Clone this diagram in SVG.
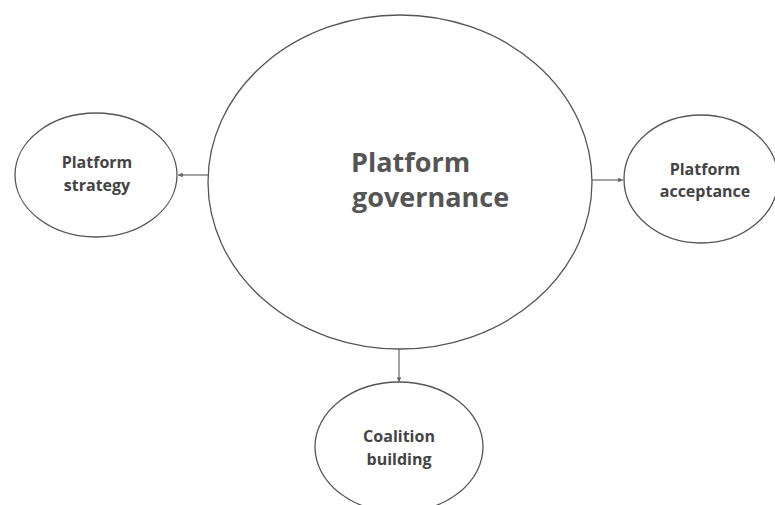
<svg xmlns="http://www.w3.org/2000/svg" width="775" height="505" viewBox="0 0 775 505">
<style>
.n{fill:#fff;stroke:#555;stroke-width:1.3}
.t{font-family:"Open Sans","Noto Sans",sans-serif;font-weight:bold;fill:#444;font-size:16px;text-anchor:middle}
.big{font-size:27px;fill:#555}
.c{stroke:#666;stroke-width:1.2;fill:none;marker-end:url(#ah)}
</style>
<defs>
<marker id="ah" viewBox="0 0 6 6" refX="6" refY="3" markerWidth="4" markerHeight="4" orient="auto">
<path d="M0,0 L6,3 L0,6 z" fill="#666"/>
</marker>
</defs>
<rect width="775" height="505" fill="#fff"/>
<g id="connectors">
<line class="c" x1="209" y1="175" x2="178" y2="175"/>
<line class="c" x1="591" y1="180" x2="623" y2="180"/>
<line class="c" x1="399" y1="349" x2="399" y2="382"/>
</g>
<g id="governance">
<ellipse class="n" cx="400" cy="182" rx="192" ry="167"/>
<text class="t big" x="351" y="172" style="text-anchor:start">Platform</text>
<text class="t big" x="352" y="207" style="text-anchor:start">governance</text>
</g>
<g id="strategy">
<ellipse class="n" cx="96" cy="175" rx="81" ry="62"/>
<text class="t" x="97" y="168">Platform</text>
<text class="t" x="97" y="191">strategy</text>
</g>
<g id="acceptance">
<ellipse class="n" cx="701" cy="179" rx="77" ry="64"/>
<text class="t" x="705" y="175">Platform</text>
<text class="t" x="705" y="197">acceptance</text>
</g>
<g id="coalition">
<ellipse class="n" cx="399" cy="447" rx="84" ry="65"/>
<text class="t" x="399" y="442">Coalition</text>
<text class="t" x="399" y="465">building</text>
</g>
</svg>
